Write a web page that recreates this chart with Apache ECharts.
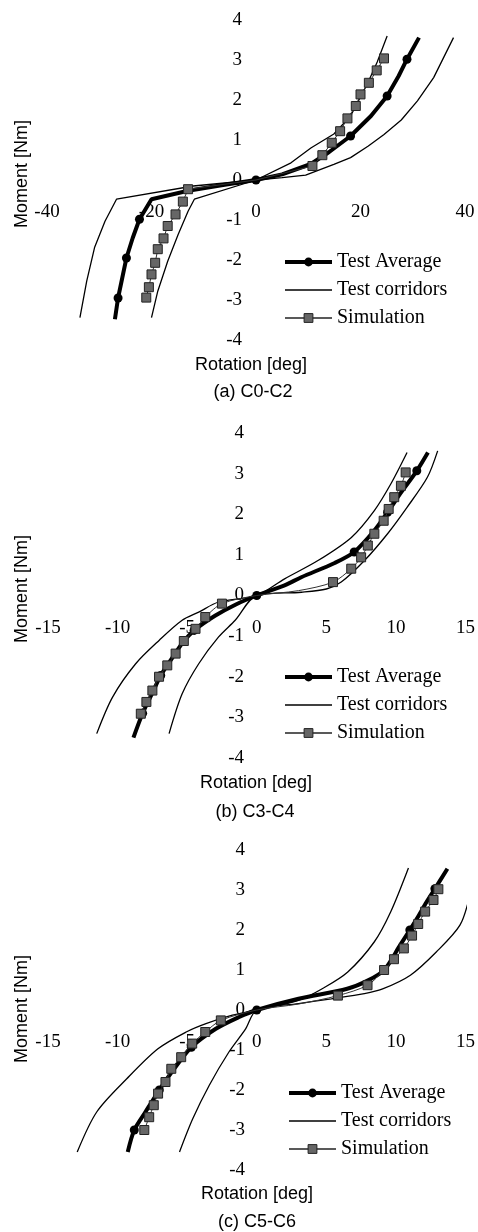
<!DOCTYPE html>
<html><head><meta charset="utf-8">
<script src="https://cdn.jsdelivr.net/npm/echarts@6/dist/echarts.min.js"></script>
<style>html,body{margin:0;padding:0;background:#fff}#c{width:478px;height:1232px}</style>
</head><body><div id="c"></div>
<script>
// ---------- tick labels ----------
const xTicksA = [-40, -20, 0, 20, 40];
const xTicksB = [-15, -10, -5, 0, 5, 10, 15];
const xTicksC = [-15, -10, -5, 0, 5, 10, 15];
const yTicks = [-4, -3, -2, -1, 0, 1, 2, 3, 4];
const legendNames = ['Test Average', 'Test corridors', 'Simulation'];
const captions = ['(a) C0-C2', '(b) C3-C4', '(c) C5-C6'];

// ---------- panel (a) C0-C2 : [rotation deg, moment Nm] ----------
const avgA = [[-27.0,-3.48],[-26.4,-2.95],[-25.6,-2.45],[-24.8,-1.95],[-23.6,-1.45],[-22.3,-0.98],[-20.0,-0.48],[-13.0,-0.27],[-6.0,-0.12],[0,0],[5,0.14],[10.5,0.4],[14.0,0.7],[18.1,1.1],[22.0,1.6],[25.1,2.1],[27.3,2.6],[28.9,3.02],[31.2,3.56]];
const avgMarksA = [1,3,5,9,13,15,17];
const corrUpA = [[-33.7,-3.44],[-32.4,-2.53],[-30.9,-1.69],[-28.9,-1.03],[-26.7,-0.48],[-12,-0.15],[0,0],[6.7,0.43],[10.5,0.8],[14.9,1.15],[18.1,1.6],[21.3,2.4],[23.2,2.95],[25.1,3.6]];
const corrLoA = [[-20.0,-3.44],[-18.8,-2.78],[-16.9,-2.03],[-14.9,-1.36],[-13.0,-0.78],[-11.8,-0.48],[0,0],[5,0.06],[9.5,0.12],[14.9,0.39],[18.1,0.56],[21.5,0.85],[24.5,1.14],[27.8,1.5],[30.9,1.98],[34,2.56],[37.8,3.56]];
const simA = [[-21.0,-2.94],[-20.5,-2.68],[-20.0,-2.36],[-19.3,-2.07],[-18.8,-1.73],[-17.7,-1.46],[-16.9,-1.15],[-15.4,-0.86],[-14.0,-0.54],[-13.0,-0.23],[0,0],[10.8,0.35],[12.7,0.62],[14.5,0.93],[16.1,1.22],[17.5,1.54],[19.1,1.85],[20.0,2.14],[21.6,2.43],[23.1,2.74],[24.5,3.04]];
const simMarksA = [0,1,2,3,4,5,6,7,8,9,11,12,13,14,15,16,17,18,19,20];

// ---------- panel (b) C3-C4 ----------
const avgB = [[-8.86,-3.5],[-8.2,-2.9],[-7.5,-2.4],[-6.9,-1.97],[-6.0,-1.5],[-5.3,-1.15],[-4.5,-0.86],[-3.0,-0.5],[-1.5,-0.22],[0,0],[2,0.25],[3.2,0.45],[5.6,0.8],[7.0,1.07],[8.45,1.6],[9.4,2.05],[10.4,2.55],[11.5,3.07],[12.3,3.52]];
const avgMarksB = [1,3,6,9,13,15,17];
const corrUpB = [[-11.5,-3.4],[-10.36,-2.5],[-8.7,-1.68],[-7.0,-1.1],[-5.36,-0.61],[-4.17,-0.41],[-2.74,-0.16],[0,0],[2,0.41],[4.4,0.86],[6.8,1.43],[8.45,2.09],[9.64,2.75],[10.8,3.52]];
const corrLoB = [[-6.3,-3.4],[-5.36,-2.42],[-4.17,-1.68],[-2.74,-1.02],[-1.55,-0.61],[0,0],[3.2,0.08],[5.0,0.16],[6.07,0.33],[7.74,0.86],[9.4,1.52],[10.8,2.17],[12.26,2.91],[13.0,3.56]];
const simB = [[-8.33,-2.91],[-7.93,-2.62],[-7.5,-2.34],[-7.02,-2.0],[-6.43,-1.72],[-5.83,-1.43],[-5.24,-1.12],[-4.4,-0.82],[-3.7,-0.53],[-2.5,-0.2],[0,0],[3.0,0.12],[5.48,0.33],[6.79,0.66],[7.5,0.94],[7.98,1.23],[8.45,1.52],[9.12,1.84],[9.48,2.13],[9.88,2.42],[10.36,2.7],[10.7,3.03]];
const simMarksB = [0,1,2,3,4,5,6,7,8,9,12,13,14,15,16,17,18,19,20,21];

// ---------- panel (c) C5-C6 ----------
const avgC = [[-9.27,-3.55],[-8.8,-3.0],[-8.0,-2.55],[-7.0,-2.0],[-6.0,-1.5],[-4.7,-0.93],[-2.94,-0.47],[-1.3,-0.18],[0,0],[3.0,0.28],[6.5,0.53],[8.0,0.74],[9.15,1.0],[10.3,1.62],[11.0,2.0],[11.5,2.28],[12.2,2.7],[12.8,3.03],[13.7,3.53]];
const avgMarksC = [1,3,5,8,12,14,17];
const corrUpC = [[-12.9,-3.55],[-11.5,-2.55],[-9.34,-1.72],[-7.1,-0.97],[-5.07,-0.55],[-3.65,-0.34],[-1.75,-0.13],[0,0],[3.0,0.24],[4.8,0.55],[6.54,0.95],[8.44,1.7],[9.62,2.45],[10.9,3.55]];
const corrLoC = [[-5.55,-3.55],[-4.6,-2.72],[-3.41,-1.88],[-2.0,-1.05],[-0.8,-0.47],[0,0],[3.0,0.16],[5.36,0.28],[7.73,0.41],[9.0,0.52],[11.04,0.87],[12.9,1.45],[14.6,2.12],[15.3,2.85]];
const simC = [[-8.08,-3.0],[-7.73,-2.68],[-7.4,-2.38],[-7.09,-2.09],[-6.56,-1.8],[-6.14,-1.47],[-5.43,-1.18],[-4.64,-0.84],[-3.7,-0.55],[-2.58,-0.26],[0,0],[3.0,0.15],[5.83,0.36],[7.96,0.62],[9.15,1.0],[9.86,1.27],[10.57,1.54],[11.16,1.86],[11.6,2.15],[12.1,2.46],[12.7,2.75],[13.05,3.02]];
const simMarksC = [0,1,2,3,4,5,6,7,8,9,12,13,14,15,16,17,18,19,20,21];

// ---------- build ----------
const panels = [
  {avg: avgA, avgM: avgMarksA, up: corrUpA, lo: corrLoA, sim: simA, simM: simMarksA, xt: xTicksA,
   grid: {left: 47, top: 20, width: 418, height: 320}, smooth: false,
   legend: {left: 283, top: 252}, yT: 174, rotY: 365, rotX: 251, capY: 392, capX: 253},
  {avg: avgB, avgM: avgMarksB, up: corrUpB, lo: corrLoB, sim: simB, simM: simMarksB, xt: xTicksB,
   grid: {left: 48, top: 433, width: 420, height: 325}, smooth: 0.3,
   legend: {left: 283, top: 667}, yT: 589, rotY: 783, rotX: 256, capY: 812, capX: 255},
  {avg: avgC, avgM: avgMarksC, up: corrUpC, lo: corrLoC, sim: simC, simM: simMarksC, xt: xTicksC,
   grid: {left: 48, top: 850, width: 422, height: 320}, smooth: 0.3,
   legend: {left: 287, top: 1083}, yT: 1009, rotY: 1194, rotX: 257, capY: 1222, capX: 257}
];

function marked(pts, marks) {
  return pts.map((p, i) => marks.includes(i) ? {value: p} : {value: p, symbol: 'none'});
}
const serif = 'Liberation Serif';
const sans = 'Liberation Sans';

const option = {
  animation: false,
  backgroundColor: '#fff',
  grid: [], xAxis: [], yAxis: [], series: [], legend: [], graphic: []
};

panels.forEach((P, k) => {
  const xMin = P.xt[0], xMax = P.xt[P.xt.length - 1];
  const yMin = yTicks[0], yMax = yTicks[yTicks.length - 1];
  option.grid.push(Object.assign({containLabel: false}, P.grid));
  // axes drawn through the origin: shift them from the grid edge to the zero line
  option.xAxis.push({
    type: 'value', gridIndex: k, min: xMin, max: xMax, interval: P.xt[1] - P.xt[0],
    position: 'bottom', offset: -P.grid.height * (0 - yMin) / (yMax - yMin),
    axisLine: {show: false, onZero: false}, axisTick: {show: false}, splitLine: {show: false},
    axisLabel: {margin: 23, fontFamily: serif, fontSize: 19, color: '#000'}
  });
  option.yAxis.push({
    type: 'value', gridIndex: k, min: yMin, max: yMax, interval: yTicks[1] - yTicks[0],
    position: 'left', offset: -P.grid.width * (0 - xMin) / (xMax - xMin),
    axisLine: {show: false, onZero: false}, axisTick: {show: false}, splitLine: {show: false},
    axisLabel: {margin: 14, fontFamily: serif, fontSize: 19, color: '#000'}
  });
  const common = {type: 'line', xAxisIndex: k, yAxisIndex: k, smooth: P.smooth, showAllSymbol: true};
  option.series.push(Object.assign({}, common, {
    name: legendNames[1], data: P.up, symbol: 'none', z: 2,
    lineStyle: {color: '#000', width: 1.3}, itemStyle: {color: '#000'}
  }));
  option.series.push(Object.assign({}, common, {
    name: legendNames[1], data: P.lo, symbol: 'none', z: 2,
    lineStyle: {color: '#000', width: 1.3}, itemStyle: {color: '#000'}
  }));
  option.series.push(Object.assign({}, common, {
    name: legendNames[0], data: marked(P.avg, P.avgM), symbol: 'circle', symbolSize: 9, z: 3,
    lineStyle: {color: '#000', width: 4}, itemStyle: {color: '#000'}
  }));
  option.series.push(Object.assign({}, common, {
    name: legendNames[2], data: marked(P.sim, P.simM), symbol: 'rect', symbolSize: 9, z: 4,
    lineStyle: {color: '#333', width: 1}, itemStyle: {color: '#666', borderColor: '#222', borderWidth: 1}
  }));
  option.legend.push({
    orient: 'vertical', left: P.legend.left, top: P.legend.top,
    data: [
      {name: legendNames[0], lineStyle: {width: 4, color: '#000'}},
      {name: legendNames[1], lineStyle: {width: 1.3, color: '#000'}, itemStyle: {opacity: 0}},
      {name: legendNames[2], lineStyle: {width: 1.4, color: '#222'}, itemStyle: {color: '#666', borderColor: '#222', borderWidth: 1}}
    ],
    itemWidth: 47, itemHeight: 11, itemGap: 8, selectedMode: false, padding: 0,
    textStyle: {fontFamily: serif, fontSize: 20, color: '#000', lineHeight: 20}
  });
  option.graphic.push({
    type: 'text', x: 22, y: P.yT, rotation: Math.PI / 2,
    style: {text: 'Moment [Nm]', font: '18px ' + sans, fill: '#000', align: 'center', verticalAlign: 'middle'}
  });
  option.graphic.push({
    type: 'text', x: P.rotX, y: P.rotY,
    style: {text: 'Rotation [deg]', font: '18px ' + sans, fill: '#000', align: 'center', verticalAlign: 'middle'}
  });
  option.graphic.push({
    type: 'text', x: P.capX, y: P.capY,
    style: {text: captions[k], font: '18px ' + sans, fill: '#000', align: 'center', verticalAlign: 'middle'}
  });
});

const chart = echarts.init(document.getElementById('c'), null, {renderer: 'canvas'});
chart.setOption(option);
</script></body></html>
